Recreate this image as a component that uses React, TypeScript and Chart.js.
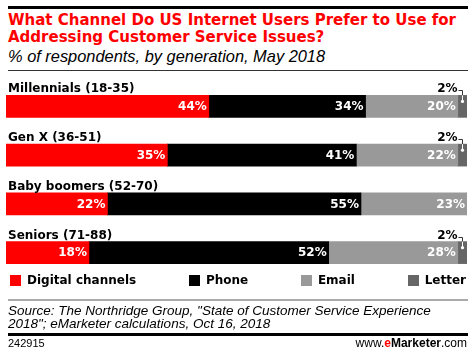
import React, { useEffect, useRef } from "react";
import { Chart, registerables } from "chart.js";

Chart.register(...registerables);

const categories = ["Millennials (18-35)", "Gen X (36-51)", "Baby boomers (52-70)", "Seniors (71-88)"];
const seriesNames = ["Digital channels", "Phone", "Email", "Letter"];
const digital = [44, 35, 22, 18];
const phone = [34, 41, 55, 52];
const email = [20, 22, 23, 28];
const letter = [2, 2, 0, 2];
const seriesColors = ["#ff0000", "#000000", "#999999", "#666666"];

const BOLD = "bold 12px 'DejaVu Sans'";

const labelPlugin = {
  id: "labelPlugin",
  afterDatasetsDraw(chart: any) {
    const ctx = chart.ctx;
    ctx.save();
    const meta0 = chart.getDatasetMeta(0);
    ctx.font = BOLD;
    // category labels
    meta0.data.forEach((el: any, i: number) => {
      const top = el.y - el.height / 2;
      ctx.fillStyle = "#000";
      ctx.textAlign = "left";
      ctx.textBaseline = "alphabetic";
      ctx.fillText(categories[i], 8, top - 3);
    });
    // value labels inside segments
    for (let d = 0; d < 3; d++) {
      const meta = chart.getDatasetMeta(d);
      const vals = chart.data.datasets[d].data;
      meta.data.forEach((el: any, i: number) => {
        const v = vals[i];
        if (!v) return;
        ctx.fillStyle = "#fff";
        ctx.textAlign = "right";
        ctx.textBaseline = "middle";
        ctx.fillText(v + "%", el.x - 2, el.y + 0.5);
      });
    }
    // letter callouts
    const meta3 = chart.getDatasetMeta(3);
    const vals3 = chart.data.datasets[3].data;
    meta3.data.forEach((el: any, i: number) => {
      const v = vals3[i];
      if (!v) return;
      const cx = Math.round((el.x + el.base) / 2) + 0.5;
      const top = el.y - el.height / 2;
      ctx.fillStyle = "#000";
      ctx.textAlign = "right";
      ctx.textBaseline = "alphabetic";
      ctx.fillText(v + "%", cx - 5, top - 3);
      ctx.strokeStyle = "#333";
      ctx.lineWidth = 1;
      ctx.beginPath();
      ctx.moveTo(cx - 4, Math.round(top - 5) + 0.5);
      ctx.lineTo(cx, Math.round(top - 5) + 0.5);
      ctx.lineTo(cx, top);
      ctx.stroke();
      ctx.strokeStyle = "#fff";
      ctx.beginPath();
      ctx.moveTo(cx, top);
      ctx.lineTo(cx, top + 6);
      ctx.stroke();
      ctx.fillStyle = "#fff";
      ctx.beginPath();
      ctx.arc(cx, top + 6, 1.6, 0, Math.PI * 2);
      ctx.fill();
    });
    ctx.restore();
  },
};

function BarChart() {
  const ref = useRef<HTMLCanvasElement>(null);
  useEffect(() => {
    if (!ref.current) return;
    const seriesData = [digital, phone, email, letter];
    const chart = new Chart(ref.current, {
      type: "bar",
      data: {
        labels: categories,
        datasets: seriesNames.map((name, k) => ({
          label: name,
          data: seriesData[k],
          backgroundColor: seriesColors[k],
          borderWidth: 0,
          barThickness: 22,
        })),
      },
      options: {
        indexAxis: "y",
        animation: false,
        responsive: false,
        layout: { padding: { left: 6, right: 6, top: 7, bottom: 3 } },
        scales: {
          x: { stacked: true, min: 0, max: 100, display: false },
          y: { stacked: true, display: false },
        },
        plugins: { legend: { display: false }, tooltip: { enabled: false } },
      },
      plugins: [labelPlugin],
    } as any);
    return () => chart.destroy();
  }, []);
  return <canvas ref={ref} width={473} height={205} style={{ width: 473, height: 205, display: "block" }} />;
}

export default function App() {
  const abs = (s: React.CSSProperties): React.CSSProperties => ({ position: "absolute", ...s });
  return (
    <div style={{ position: "fixed", left: 0, top: 0, width: 473, height: 355, background: "#fff", overflow: "hidden" }}>
      <div style={abs({ left: 8, top: 6, width: 460, height: 3, background: "#000" })} />
      <div
        style={abs({
          left: 8,
          top: 12,
          width: 465,
          font: "bold 15px 'DejaVu Sans'",
          lineHeight: "17px",
          color: "#ff0000",
          whiteSpace: "nowrap",
        })}
      >
        What Channel Do US Internet Users Prefer to Use for
        <br />
        Addressing Customer Service Issues?
      </div>
      <div
        style={abs({
          left: 8,
          top: 47,
          font: "italic 16.4px 'Liberation Sans'",
          lineHeight: "18px",
          color: "#000",
          whiteSpace: "nowrap",
        })}
      >
        % of respondents, by generation, May 2018
      </div>
      <div style={abs({ left: 8, top: 70, width: 460, height: 1, background: "#333" })} />
      <div style={abs({ left: 0, top: 75, width: 473, height: 205 })}>
        <BarChart />
      </div>
      <div
        style={abs({
          left: 10,
          top: 274,
          width: 456,
          height: 13,
          display: "flex",
          justifyContent: "space-between",
          alignItems: "center",
        })}
      >
        {seriesNames.map((n, k) => (
          <div key={n} style={{ display: "flex", alignItems: "center" }}>
            <div style={{ width: 11, height: 11, background: seriesColors[k], marginRight: 6 }} />
            <span style={{ font: BOLD, lineHeight: "13px", color: "#000", whiteSpace: "nowrap" }}>{n}</span>
          </div>
        ))}
      </div>
      <div style={abs({ left: 8, top: 299, width: 460, height: 2, background: "#aaaaaa" })} />
      <div
        style={abs({
          left: 8,
          top: 304,
          font: "italic 13.5px 'Liberation Sans'",
          lineHeight: "13px",
          color: "#000",
          whiteSpace: "nowrap",
        })}
      >
        Source: The Northridge Group, "State of Customer Service Experience
        <br />
        2018"; eMarketer calculations, Oct 16, 2018
      </div>
      <div style={abs({ left: 8, top: 333, width: 460, height: 3, background: "#000" })} />
      <div style={abs({ left: 8, top: 337, font: "11px 'Liberation Sans'", lineHeight: "13px", color: "#000" })}>
        242915
      </div>
      <div
        style={abs({
          right: 6,
          top: 335.5,
          font: "12px 'Liberation Sans'",
          lineHeight: "14px",
          color: "#000",
          whiteSpace: "nowrap",
        })}
      >
        www.<b style={{ color: "#ff0000" }}>e</b>
        <b>Marketer</b>.com
      </div>
    </div>
  );
}
